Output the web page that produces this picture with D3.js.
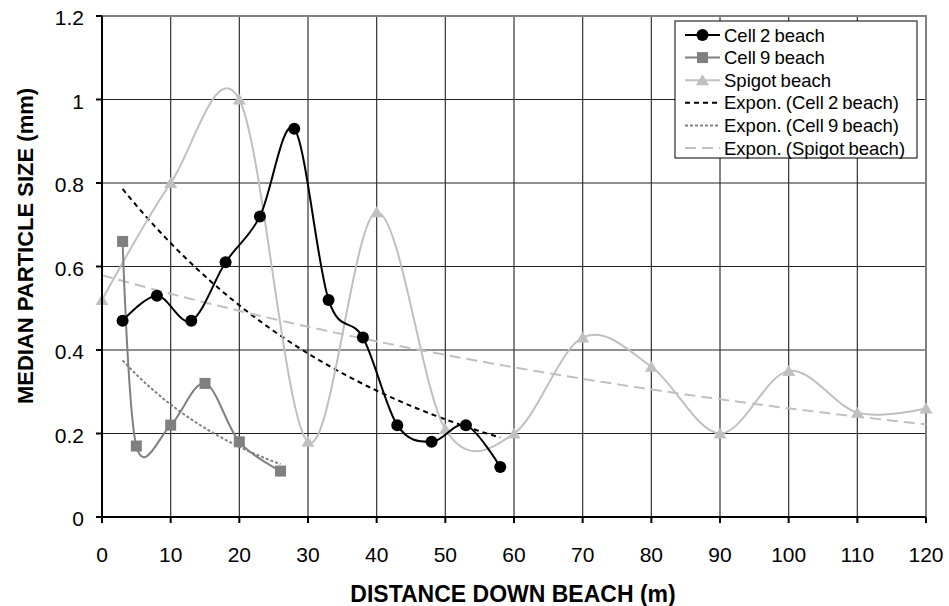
<!DOCTYPE html>
<html>
<head>
<meta charset="utf-8">
<script src="https://cdn.jsdelivr.net/npm/d3@7"></script>
<style>
  body { margin: 0; background: #fff; }
  text { font-family: Arial, "Liberation Sans", sans-serif; }
</style>
</head>
<body>
<div id="chart"></div>
<script>
// data
const cell2X = [3, 8, 13, 18, 23, 28, 33, 38, 43, 48, 53, 58];
const cell2Y = [0.47, 0.53, 0.47, 0.61, 0.72, 0.93, 0.52, 0.43, 0.22, 0.18, 0.22, 0.12];
const cell9X = [3, 5, 10, 15, 20, 26];
const cell9Y = [0.66, 0.17, 0.22, 0.32, 0.18, 0.11];
const spigotX = [0, 10, 20, 30, 40, 50, 60, 70, 80, 90, 100, 110, 120];
const spigotY = [0.52, 0.80, 1.00, 0.18, 0.73, 0.21, 0.20, 0.43, 0.36, 0.20, 0.35, 0.25, 0.26];
const xTicks = [0, 10, 20, 30, 40, 50, 60, 70, 80, 90, 100, 110, 120];
const yTicks = [0, 0.2, 0.4, 0.6, 0.8, 1, 1.2];
const legendLabels = ['Cell 2 beach', 'Cell 9 beach', 'Spigot beach',
  'Expon. (Cell 2 beach)', 'Expon. (Cell 9 beach)', 'Expon. (Spigot beach)'];

const W = 949, H = 606;
const m = {left: 102, right: 926, top: 16, bottom: 517};

const svg = d3.select('#chart').append('svg')
  .attr('width', W)
  .attr('height', H);

const x = d3.scaleLinear().domain([0, 120]).range([m.left, m.right]);
const y = d3.scaleLinear().domain([0, 1.2]).range([m.bottom, m.top]);

const zip = (xs, ys) => xs.map((v, i) => [v, ys[i]]);

//exponential fit like the spreadsheet trendline (least squares on ln y)
function expFit(xs, ys) {
  const ly = ys.map(Math.log);
  const mx = d3.mean(xs), my = d3.mean(ly);
  let sxy = 0, sxx = 0;
  xs.forEach((v, i) => { sxy += (v - mx) * (ly[i] - my); sxx += (v - mx) * (v - mx); });
  const b = sxy / sxx, a = Math.exp(my - b * mx);
  return t => a * Math.exp(b * t);
}

const series = [
  {name: legendLabels[0], pts: zip(cell2X, cell2Y), color: '#000', marker: 'circle'},
  {name: legendLabels[1], pts: zip(cell9X, cell9Y), color: '#808080', marker: 'square'},
  {name: legendLabels[2], pts: zip(spigotX, spigotY), color: '#c0c0c0', marker: 'triangle'}
];
const trends = [
  {name: legendLabels[3], xs: cell2X, ys: cell2Y, color: '#000', dash: '5,4'},
  {name: legendLabels[4], xs: cell9X, ys: cell9Y, color: '#808080', dash: '3,2'},
  {name: legendLabels[5], xs: spigotX, ys: spigotY, color: '#c0c0c0', dash: '11,6'}
];

//grid
svg.append('g').selectAll('line').data(yTicks.slice(1, -1)).join('line')
  .attr('x1', m.left).attr('x2', m.right)
  .attr('y1', d => y(d)).attr('y2', d => y(d))
  .attr('stroke', '#222').attr('stroke-width', 1.2);
svg.append('g').selectAll('line').data(xTicks.slice(1, -1)).join('line')
  .attr('x1', d => x(d)).attr('x2', d => x(d))
  .attr('y1', m.top).attr('y2', m.bottom)
  .attr('stroke', '#333').attr('stroke-width', 1.2);

//plot border top/right
svg.append('path')
  .attr('d', `M${m.left},${m.top}H${m.right}V${m.bottom}`)
  .attr('fill', 'none').attr('stroke', '#808080').attr('stroke-width', 2);

//trendlines
const steps = d3.range(0, 101).map(i => i / 100);
trends.forEach(t => {
  const f = expFit(t.xs, t.ys);
  const x0 = d3.min(t.xs), x1 = d3.max(t.xs);
  const pts = steps.map(s => [x0 + (x1 - x0) * s, f(x0 + (x1 - x0) * s)]);
  svg.append('path')
    .datum(pts)
    .attr('d', d3.line().x(d => x(d[0])).y(d => y(d[1])))
    .attr('fill', 'none')
    .attr('stroke', t.color)
    .attr('stroke-width', 2)
    .attr('stroke-dasharray', t.dash);
});

function drawMarker(g, type, color, cx, cy) {
  if (type === 'circle') {
    g.append('circle').attr('cx', cx).attr('cy', cy).attr('r', 6).attr('fill', color);
  } else if (type === 'square') {
    g.append('rect').attr('x', cx - 5.5).attr('y', cy - 5.5)
      .attr('width', 11).attr('height', 11).attr('fill', color);
  } else {
    g.append('path').attr('d', `M${cx},${cy - 6}L${cx + 6.5},${cy + 5}L${cx - 6.5},${cy + 5}Z`)
      .attr('fill', color);
  }
}

//series, last one at the bottom
const smooth = d3.line().x(d => x(d[0])).y(d => y(d[1])).curve(d3.curveCardinal.tension(0));
series.slice().reverse().forEach(s => {
  const g = svg.append('g');
  g.append('path')
    .datum(s.pts)
    .attr('d', smooth)
    .attr('fill', 'none')
    .attr('stroke', s.color)
    .attr('stroke-width', 2);
  s.pts.forEach(p => drawMarker(g, s.marker, s.color, x(p[0]), y(p[1])));
});

//axes
svg.append('line').attr('x1', m.left).attr('x2', m.left).attr('y1', m.top).attr('y2', m.bottom + 6)
  .attr('stroke', '#000').attr('stroke-width', 2);
svg.append('line').attr('x1', m.left - 6).attr('x2', m.right).attr('y1', m.bottom).attr('y2', m.bottom)
  .attr('stroke', '#000').attr('stroke-width', 2);

svg.append('g').selectAll('line').data(yTicks).join('line')
  .attr('x1', m.left - 6).attr('x2', m.left)
  .attr('y1', d => y(d)).attr('y2', d => y(d))
  .attr('stroke', '#000').attr('stroke-width', 2);
svg.append('g').selectAll('line').data(xTicks).join('line')
  .attr('x1', d => x(d)).attr('x2', d => x(d))
  .attr('y1', m.bottom).attr('y2', m.bottom + 6)
  .attr('stroke', '#000').attr('stroke-width', 2);

svg.append('g').selectAll('text').data(yTicks).join('text')
  .attr('x', 84).attr('y', d => y(d) + 9)
  .attr('text-anchor', 'end')
  .attr('font-size', 21)
  .text(d => d3.format('~g')(d));
svg.append('g').selectAll('text').data(xTicks).join('text')
  .attr('x', d => x(d)).attr('y', 562)
  .attr('text-anchor', 'middle')
  .attr('font-size', 21)
  .text(d => d);

svg.append('text')
  .attr('x', 513).attr('y', 602)
  .attr('text-anchor', 'middle')
  .attr('font-size', 23).attr('font-weight', 'bold')
  .text('DISTANCE DOWN BEACH (m)');
svg.append('text')
  .attr('transform', 'translate(33,246) rotate(-90)')
  .attr('text-anchor', 'middle')
  .attr('font-size', 22).attr('font-weight', 'bold')
  .text('MEDIAN PARTICLE SIZE (mm)');

//legend
const lg = svg.append('g');
lg.append('rect').attr('x', 675).attr('y', 21).attr('width', 242).attr('height', 137)
  .attr('fill', '#fff').attr('stroke', '#000').attr('stroke-width', 1);
const rowY = i => 35 + i * 22.6;
series.forEach((s, i) => {
  lg.append('line').attr('x1', 685).attr('x2', 720).attr('y1', rowY(i)).attr('y2', rowY(i))
    .attr('stroke', s.color).attr('stroke-width', 2);
  drawMarker(lg, s.marker, s.color, 702.5, rowY(i));
});
trends.forEach((t, i) => {
  lg.append('line').attr('x1', 685).attr('x2', 720).attr('y1', rowY(i + 3)).attr('y2', rowY(i + 3))
    .attr('stroke', t.color).attr('stroke-width', 2).attr('stroke-dasharray', t.dash);
});
lg.selectAll('text').data(legendLabels).join('text')
  .attr('x', 724).attr('y', (d, i) => rowY(i) + 6.5)
  .attr('font-size', 18.5)
  .attr('word-spacing', -1)
  .text(d => d);
</script>
</body>
</html>
